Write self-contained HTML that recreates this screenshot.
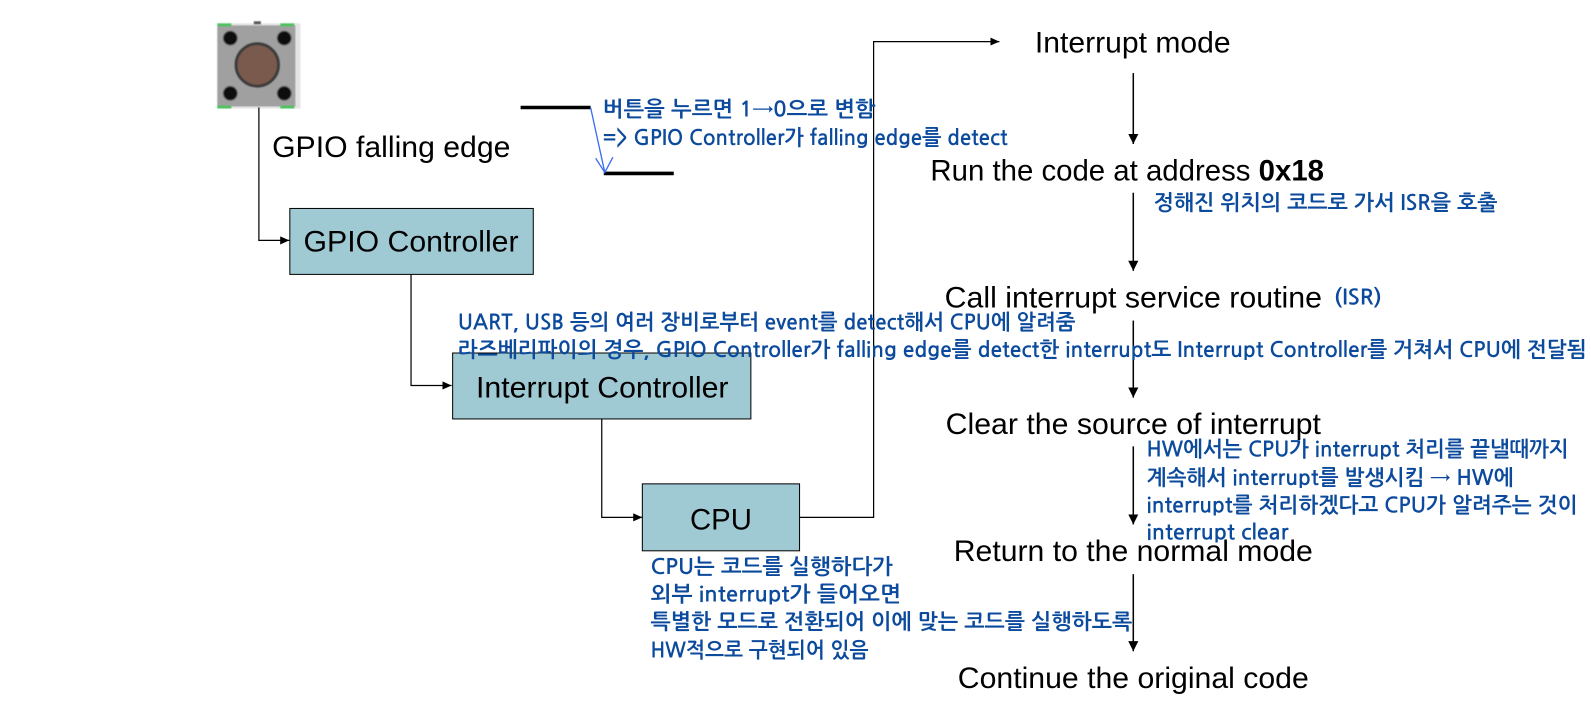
<!DOCTYPE html>
<html lang="ko">
<head>
<meta charset="utf-8">
<style>
html,body{margin:0;padding:0;background:#fff;width:1591px;height:705px;overflow:hidden}
svg{display:block}
.k{font-family:"Liberation Sans",sans-serif;font-size:29px;fill:#000}
.b{font-family:"NanumGothic","Noto Sans CJK KR",sans-serif;font-size:21px;font-weight:700;fill:#0b4a9c}
</style>
</head>
<body>
<svg width="1591" height="705" viewBox="0 0 1568 695" xmlns="http://www.w3.org/2000/svg">
<defs>
<marker id="a" markerWidth="10" markerHeight="10" refX="9" refY="4" orient="auto" markerUnits="userSpaceOnUse"><path d="M0 0L9 4L0 8Z" fill="#000"/></marker>
<marker id="c" markerWidth="12" markerHeight="12" refX="10" refY="5" orient="auto" markerUnits="userSpaceOnUse"><path d="M0 0L10 5L0 10Z" fill="#000"/></marker>
<filter id="s"><feGaussianBlur stdDeviation="0.6"/></filter>
</defs>
<rect width="1568" height="695" fill="#fff"/>

<!-- push button -->
<g filter="url(#s)">
<rect x="214" y="23" width="82" height="84" fill="#e4e4e4"/>
<rect x="214" y="25" width="77" height="80" fill="#a0a0a0"/>
<rect x="214" y="23" width="14" height="3" fill="#4fc060"/>
<rect x="276" y="23" width="14" height="3" fill="#4fc060"/>
<rect x="214" y="104" width="14" height="3" fill="#4fc060"/>
<rect x="276" y="104" width="14" height="3" fill="#4fc060"/>
<circle cx="226.800" cy="37.600" r="7" fill="#0c0c0c" stroke="#6a6a6a"/>
<circle cx="280" cy="37.600" r="7" fill="#0c0c0c" stroke="#6a6a6a"/>
<circle cx="226.800" cy="92" r="7" fill="#0c0c0c" stroke="#6a6a6a"/>
<circle cx="280" cy="92" r="7" fill="#0c0c0c" stroke="#6a6a6a"/>
<circle cx="253.400" cy="64" r="21" fill="#7a5a4e" stroke="#3c3c3c" stroke-width="3"/>
<ellipse cx="56" cy="0" rx="0" ry="0"/>
<rect x="250" y="21" width="7" height="3" fill="#555"/>
</g>

<g fill="none" stroke="#000" stroke-width="1.2">
<path d="M255 106V237H285" marker-end="url(#a)"/>
<path d="M405 270V380H445" marker-end="url(#a)"/>
<path d="M593 413V510H633" marker-end="url(#a)"/>
<path d="M788 510H861V41H985" marker-end="url(#a)"/>
</g>
<g fill="none" stroke="#000" stroke-width="1.5">
<path d="M1117 72V142" marker-end="url(#c)"/>
<path d="M1117 190V267" marker-end="url(#c)"/>
<path d="M1117 316V392" marker-end="url(#c)"/>
<path d="M1117 440V517" marker-end="url(#c)"/>
<path d="M1117 566V642" marker-end="url(#c)"/>
</g>

<rect x="285.500" y="205.500" width="240" height="65" fill="#9fc9d3" stroke="#000" stroke-width="1"/>
<rect x="446" y="348" width="294" height="65" fill="#9fc9d3" stroke="#000" stroke-width="1"/>
<rect x="633" y="477" width="155" height="66" fill="#9fc9d3" stroke="#000" stroke-width="1"/>

<path d="M513 106H582M595 171H664" stroke="#000" stroke-width="3.500" fill="none"/>
<path d="M582 106L596 170M587 156L596 170L604 155" stroke="#3a6cf0" stroke-width="1.300" fill="none"/>

<text class="k" x="1020" y="52" textLength="193" lengthAdjust="spacingAndGlyphs">Interrupt mode</text>
<text class="k" x="268" y="155" textLength="235" lengthAdjust="spacingAndGlyphs">GPIO falling edge</text>
<text class="k" x="299" y="248" textLength="212" lengthAdjust="spacingAndGlyphs">GPIO Controller</text>
<text class="k" x="469" y="392" textLength="249" lengthAdjust="spacingAndGlyphs">Interrupt Controller</text>
<text class="k" x="680" y="522" textLength="61" lengthAdjust="spacingAndGlyphs">CPU</text>
<text class="k" x="917" y="178" textLength="388" lengthAdjust="spacingAndGlyphs">Run the code at address <tspan font-weight="700">0x18</tspan></text>
<text class="k" x="931" y="303" textLength="372" lengthAdjust="spacingAndGlyphs">Call interrupt service routine</text>
<text class="k" x="932" y="428" textLength="370" lengthAdjust="spacingAndGlyphs">Clear the source of interrupt</text>
<text class="k" x="940" y="553" textLength="354" lengthAdjust="spacingAndGlyphs">Return to the normal mode</text>
<text class="k" x="944" y="678" textLength="346" lengthAdjust="spacingAndGlyphs">Continue the original code</text>

<text class="b" x="594" y="115" textLength="269" lengthAdjust="spacingAndGlyphs">버튼을 누르면 1→0으로 변함</text>
<text class="b" x="594" y="143" textLength="399" lengthAdjust="spacingAndGlyphs">=&gt; GPIO Controller가 falling edge를 detect</text>
<text class="b" x="1137" y="207" textLength="339" lengthAdjust="spacingAndGlyphs">정해진 위치의 코드로 가서 ISR을 호출</text>
<text class="b" x="1315" y="300" textLength="47" lengthAdjust="spacingAndGlyphs">(ISR)</text>
<text class="b" x="451" y="325" textLength="609" lengthAdjust="spacingAndGlyphs">UART, USB 등의 여러 장비로부터 event를 detect해서 CPU에 알려줌</text>
<text class="b" x="451" y="352" textLength="1113" lengthAdjust="spacingAndGlyphs">라즈베리파이의 경우, GPIO Controller가 falling edge를 detect한 interrupt도 Interrupt Controller를 거쳐서 CPU에 전달됨</text>
<text class="b" x="1130" y="450" textLength="416" lengthAdjust="spacingAndGlyphs">HW에서는 CPU가 interrupt 처리를 끝낼때까지</text>
<text class="b" x="1130" y="478" textLength="362" lengthAdjust="spacingAndGlyphs">계속해서 interrupt를 발생시킴 → HW에</text>
<text class="b" x="1130" y="505" textLength="425" lengthAdjust="spacingAndGlyphs">interrupt를 처리하겠다고 CPU가 알려주는 것이</text>
<text class="b" x="1130" y="532" textLength="140" lengthAdjust="spacingAndGlyphs">interrupt clear</text>
<text class="b" x="641" y="566" textLength="239" lengthAdjust="spacingAndGlyphs">CPU는 코드를 실행하다가</text>
<text class="b" x="641" y="593" textLength="247" lengthAdjust="spacingAndGlyphs">외부 interrupt가 들어오면</text>
<text class="b" x="641" y="620" textLength="475" lengthAdjust="spacingAndGlyphs">특별한 모드로 전환되어 이에 맞는 코드를 실행하도록</text>
<text class="b" x="641" y="648" textLength="215" lengthAdjust="spacingAndGlyphs">HW적으로 구현되어 있음</text>
</svg>
</body>
</html>
